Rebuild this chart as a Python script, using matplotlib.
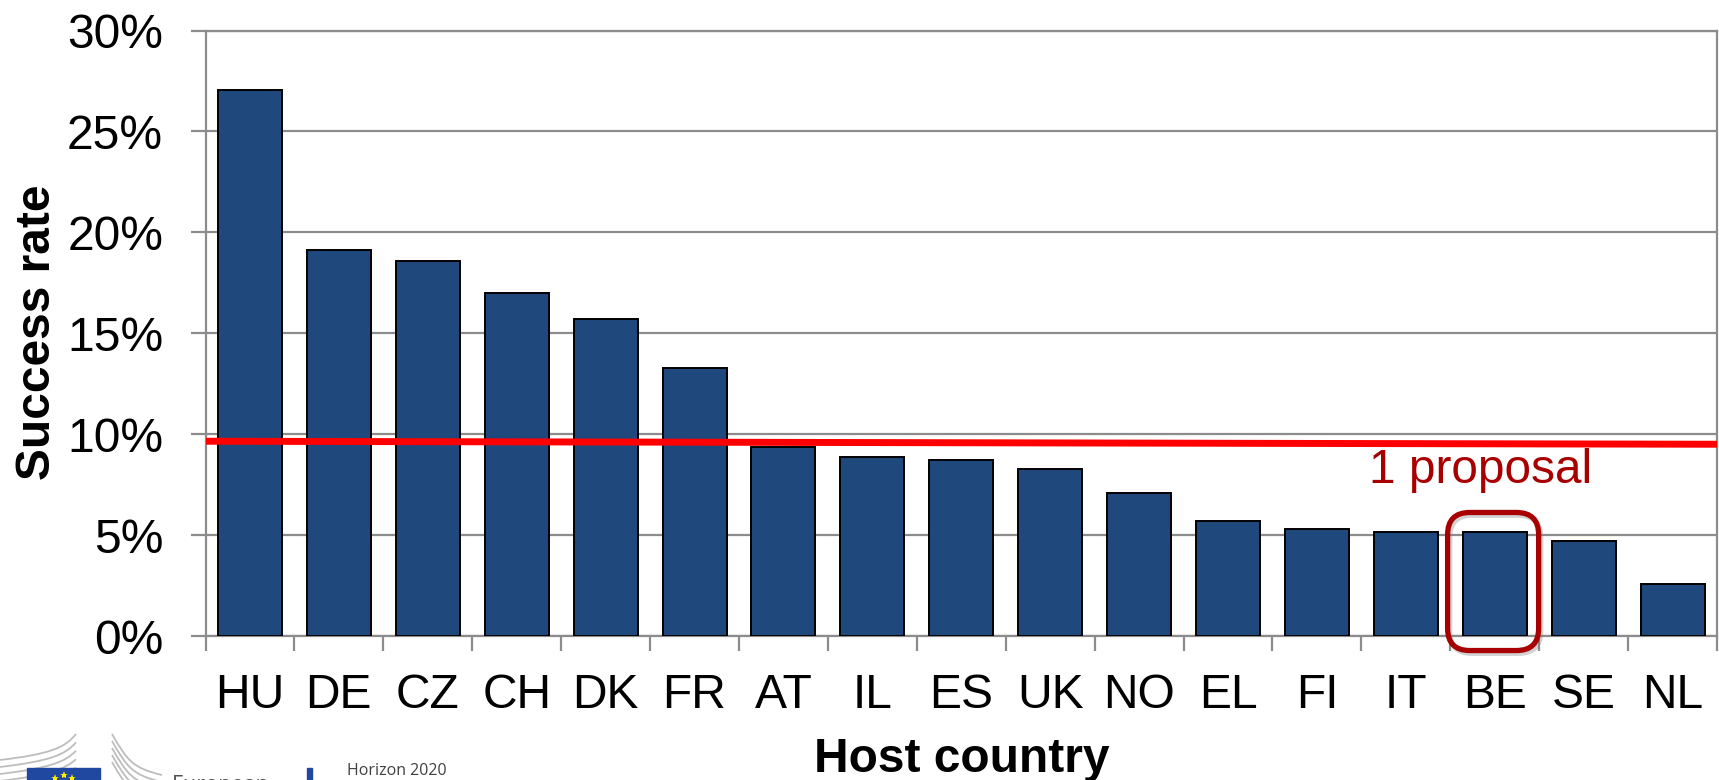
import matplotlib
matplotlib.use("Agg")
import matplotlib.pyplot as plt
import matplotlib.patheffects as pe
from matplotlib.lines import Line2D
from matplotlib.patches import FancyBboxPatch, Rectangle, PathPatch
from matplotlib.path import Path
from matplotlib.ticker import FuncFormatter

W, H = 1719, 780

countries = ["HU", "DE", "CZ", "CH", "DK", "FR", "AT", "IL", "ES", "UK",
             "NO", "EL", "FI", "IT", "BE", "SE", "NL"]
success_rate = [27.05, 19.1, 18.6, 17.0, 15.7, 13.3, 9.35, 8.85, 8.7, 8.25,
                7.1, 5.7, 5.3, 5.15, 5.15, 4.7, 2.6]
yticks = [0, 5, 10, 15, 20, 25, 30]
threshold_ends = [9.65, 9.5]

plt.rcParams['font.family'] = ['Liberation Sans', 'DejaVu Sans']

fig = plt.figure(figsize=(W / 100, H / 100), dpi=100)
ax = fig.add_axes([205.5 / W, 1 - 636 / H, (1717 - 205.5) / W, (636 - 30.5) / H])

grey = '#8c8c8c'
red = '#a80000'
xpos = list(range(len(countries)))

# Bars
ax.bar(xpos, success_rate, width=0.72, color='#1f497d', edgecolor='black',
       linewidth=1.4, zorder=3)

ax.set_xlim(-0.5, len(countries) - 0.5)
ax.set_ylim(0, 30)

# Grid and spines
ax.set_yticks(yticks)
ax.yaxis.set_major_formatter(FuncFormatter(lambda v, p: "%d%%" % v))
ax.grid(axis='y', color=grey, linewidth=1.6, zorder=0)
ax.set_axisbelow(True)
for side in ['left', 'bottom', 'right', 'top']:
    ax.spines[side].set_color(grey)
    ax.spines[side].set_linewidth(1.6)

ax.set_xticks([i - 0.5 for i in range(len(countries) + 1)], minor=True)
ax.set_xticks(xpos)
ax.set_xticklabels(countries)
ax.tick_params(axis='x', which='major', length=0, pad=27, labelsize=34.6)
ax.tick_params(axis='x', which='minor', length=11, width=1.6, color=grey)
ax.tick_params(axis='y', length=10.5, width=1.6, color=grey, pad=20, labelsize=34.6)

# Threshold line, drawn across the full axes width
ax.plot([-0.5, len(countries) - 0.5], threshold_ends, color='#ff0000',
        linewidth=5, zorder=4, solid_capstyle='butt')
ax.text(0.7696, 0.274, "1 proposal", transform=ax.transAxes, color=red,
        fontsize=34.4, ha='left', va='center', zorder=5)

# Highlight around BE
be = countries.index("BE")
box = FancyBboxPatch((be - 0.53, -0.72), 1.024, 6.84,
                     boxstyle="round,pad=0,rounding_size=0.25", mutation_aspect=4.4,
                     fill=False, edgecolor=red, linewidth=3.8, zorder=6, clip_on=False,
                     path_effects=[pe.SimpleLineShadow(offset=(1.5, -2), shadow_color='#808080',
                                                       alpha=0.35),
                                   pe.Normal()])
ax.add_patch(box)

# Axis titles
fig.text(38 / W, 1 - 332 / H, "Success rate", rotation=90, fontsize=34.5, fontweight='bold',
         ha='center', va='center')
fig.text(962 / W, 1 - 760 / H, "Host country", fontsize=34.5, fontweight='bold',
         ha='center', va='center')

# Cropped logo strip at the bottom
for k in range(5):
    d = 7 * k
    left = Path([(0, (20 - d) / H), (50 / W, (26 - d) / H),
                 (65 / W, (32 - d) / H), (76 / W, (46 - 1.2 * d) / H)],
                [Path.MOVETO, Path.CURVE4, Path.CURVE4, Path.CURVE4])
    fig.add_artist(PathPatch(left, fill=False, edgecolor='#bdbdbd', linewidth=1.3,
                             transform=fig.transFigure, zorder=1))
    right = Path([(112 / W, (46 - d) / H), (127 / W, (20 - d) / H),
                  (132 / W, (12 - d) / H), (162 / W, (5 - d) / H)],
                 [Path.MOVETO, Path.CURVE4, Path.CURVE4, Path.CURVE4])
    fig.add_artist(PathPatch(right, fill=False, edgecolor='#bdbdbd', linewidth=1.3,
                             transform=fig.transFigure, zorder=1))
fig.add_artist(Rectangle((27 / W, 0), 73 / W, 12 / H, transform=fig.transFigure,
                         color='#2148a0', zorder=2))
fig.add_artist(Line2D([55 / W, 64 / W, 72 / W], [2.5 / H, 5.5 / H, 2.5 / H], linestyle='none',
                      marker='*', markersize=6, color='#ffee00', markeredgewidth=0,
                      transform=fig.transFigure, zorder=3))
fig.text(172 / W, 5 / H, "European", color='#505050', fontsize=15.5,
         family=['Open Sans', 'DejaVu Sans'], ha='left', va='top')
fig.add_artist(Rectangle((307 / W, 0), 5 / W, 12 / H, transform=fig.transFigure,
                         color='#2148a0'))
fig.text(347 / W, 1 / H, "Horizon 2020", color='#404040', fontsize=11.5,
         family=['Open Sans', 'DejaVu Sans'], ha='left', va='bottom')

fig.savefig("out.png", dpi=100)
